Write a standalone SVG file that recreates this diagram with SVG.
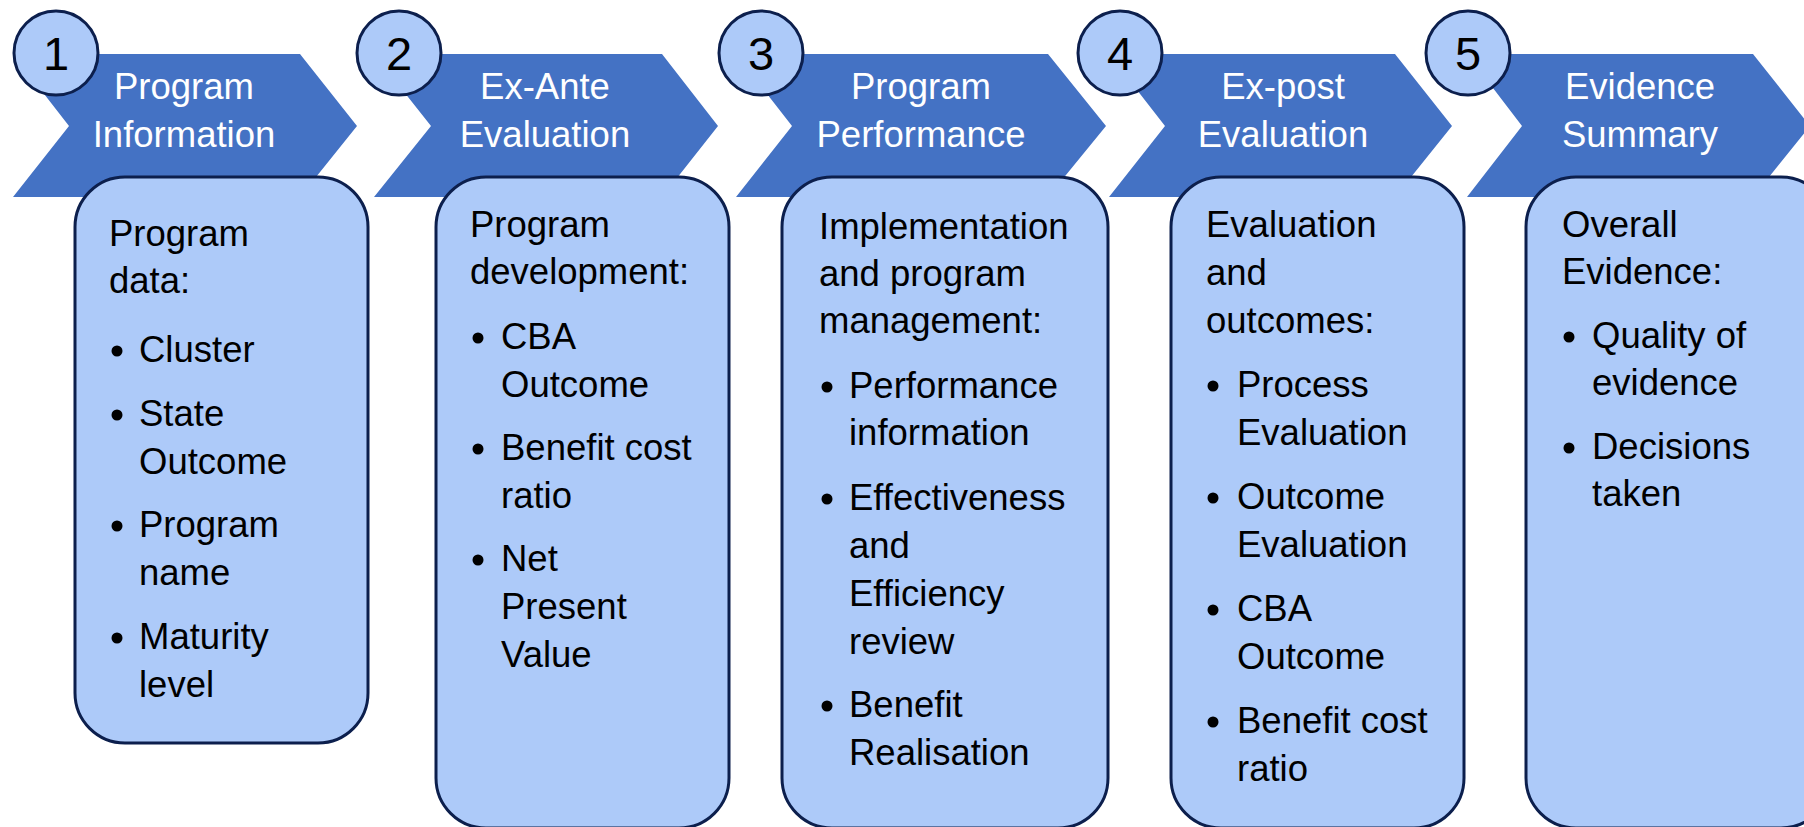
<svg xmlns="http://www.w3.org/2000/svg" width="1804" height="827" viewBox="0 0 1804 827">
<style>
.chev{fill:#4472c4;}
.circ{fill:#adcaf9;stroke:#0c1f4d;stroke-width:3;}
.box{fill:#adcaf9;stroke:#0c1f4d;stroke-width:3;}
.num{font-family:"Liberation Sans",Arial,sans-serif;font-size:47px;fill:#000;text-anchor:middle;}
.title{font-family:"Liberation Sans",Arial,sans-serif;font-size:36.5px;fill:#fff;text-anchor:middle;}
.txt{font-family:"Liberation Sans",Arial,sans-serif;font-size:36.5px;fill:#000;}
.dot{fill:#000;}
</style>
<rect width="1804" height="827" fill="#fff"/>
<g id="connectors"/>

<g id="step1">
<polygon class="chev" points="13,54 300,54 357,126 300,197 13,197 69,126"/>
<circle class="circ" cx="56" cy="53" r="42"/>
<text class="num" x="56" y="70">1</text>
<text class="title" x="184" y="99">Program</text>
<text class="title" x="184" y="147">Information</text>
</g>
<g id="box1">
<rect class="box" x="75" y="177" width="293" height="566" rx="50" ry="50"/>
<text class="txt" x="109" y="246">Program</text>
<text class="txt" x="109" y="293">data:</text>
<circle class="dot" cx="117" cy="351" r="5.5"/><text class="txt" x="139" y="362">Cluster</text>
<circle class="dot" cx="117" cy="415" r="5.5"/><text class="txt" x="139" y="426">State</text>
<text class="txt" x="139" y="474">Outcome</text>
<circle class="dot" cx="117" cy="526" r="5.5"/><text class="txt" x="139" y="537">Program</text>
<text class="txt" x="139" y="585">name</text>
<circle class="dot" cx="117" cy="638" r="5.5"/><text class="txt" x="139" y="649">Maturity</text>
<text class="txt" x="139" y="697">level</text>
</g>

<g id="step2">
<polygon class="chev" points="374,54 662,54 718,126 662,197 374,197 431,126"/>
<circle class="circ" cx="399" cy="53" r="42"/>
<text class="num" x="399" y="70">2</text>
<text class="title" x="545" y="99">Ex-Ante</text>
<text class="title" x="545" y="147">Evaluation</text>
</g>
<g id="box2">
<rect class="box" x="436" y="177" width="293" height="651" rx="50" ry="50"/>
<text class="txt" x="470" y="237">Program</text>
<text class="txt" x="470" y="284">development:</text>
<circle class="dot" cx="478" cy="338" r="5.5"/><text class="txt" x="501" y="349">CBA</text>
<text class="txt" x="501" y="397">Outcome</text>
<circle class="dot" cx="478" cy="449" r="5.5"/><text class="txt" x="501" y="460">Benefit cost</text>
<text class="txt" x="501" y="508">ratio</text>
<circle class="dot" cx="478" cy="560" r="5.5"/><text class="txt" x="501" y="571">Net</text>
<text class="txt" x="501" y="619">Present</text>
<text class="txt" x="501" y="667">Value</text>
</g>

<g id="step3">
<polygon class="chev" points="736,54 1048,54 1106,126 1048,197 736,197 792,126"/>
<circle class="circ" cx="761" cy="53" r="42"/>
<text class="num" x="761" y="70">3</text>
<text class="title" x="921" y="99">Program</text>
<text class="title" x="921" y="147">Performance</text>
</g>
<g id="box3">
<rect class="box" x="782" y="177" width="326" height="651" rx="50" ry="50"/>
<text class="txt" x="819" y="239">Implementation</text>
<text class="txt" x="819" y="286">and program</text>
<text class="txt" x="819" y="333">management:</text>
<circle class="dot" cx="827" cy="387" r="5.5"/><text class="txt" x="849" y="398">Performance</text>
<text class="txt" x="849" y="445">information</text>
<circle class="dot" cx="827" cy="499" r="5.5"/><text class="txt" x="849" y="510">Effectiveness</text>
<text class="txt" x="849" y="558">and</text>
<text class="txt" x="849" y="606">Efficiency</text>
<text class="txt" x="849" y="654">review</text>
<circle class="dot" cx="827" cy="706" r="5.5"/><text class="txt" x="849" y="717">Benefit</text>
<text class="txt" x="849" y="765">Realisation</text>
</g>

<g id="step4">
<polygon class="chev" points="1109,54 1395,54 1452,126 1395,197 1109,197 1165,126"/>
<circle class="circ" cx="1120" cy="53" r="42"/>
<text class="num" x="1120" y="70">4</text>
<text class="title" x="1283" y="99">Ex-post</text>
<text class="title" x="1283" y="147">Evaluation</text>
</g>
<g id="box4">
<rect class="box" x="1171" y="177" width="293" height="651" rx="50" ry="50"/>
<text class="txt" x="1206" y="237">Evaluation</text>
<text class="txt" x="1206" y="285">and</text>
<text class="txt" x="1206" y="333">outcomes:</text>
<circle class="dot" cx="1213" cy="386" r="5.5"/><text class="txt" x="1237" y="397">Process</text>
<text class="txt" x="1237" y="445">Evaluation</text>
<circle class="dot" cx="1213" cy="498" r="5.5"/><text class="txt" x="1237" y="509">Outcome</text>
<text class="txt" x="1237" y="557">Evaluation</text>
<circle class="dot" cx="1213" cy="610" r="5.5"/><text class="txt" x="1237" y="621">CBA</text>
<text class="txt" x="1237" y="669">Outcome</text>
<circle class="dot" cx="1213" cy="722" r="5.5"/><text class="txt" x="1237" y="733">Benefit cost</text>
<text class="txt" x="1237" y="781">ratio</text>
</g>

<g id="step5">
<polygon class="chev" points="1467,54 1753,54 1810,126 1753,197 1467,197 1522,126"/>
<circle class="circ" cx="1468" cy="53" r="42"/>
<text class="num" x="1468" y="70">5</text>
<text class="title" x="1640" y="99">Evidence</text>
<text class="title" x="1640" y="147">Summary</text>
</g>
<g id="box5">
<rect class="box" x="1526" y="177" width="305" height="651" rx="50" ry="50"/>
<text class="txt" x="1562" y="237">Overall</text>
<text class="txt" x="1562" y="284">Evidence:</text>
<circle class="dot" cx="1569" cy="337" r="5.5"/><text class="txt" x="1592" y="348">Quality of</text>
<text class="txt" x="1592" y="395">evidence</text>
<circle class="dot" cx="1569" cy="448" r="5.5"/><text class="txt" x="1592" y="459">Decisions</text>
<text class="txt" x="1592" y="506">taken</text>
</g>
</svg>
